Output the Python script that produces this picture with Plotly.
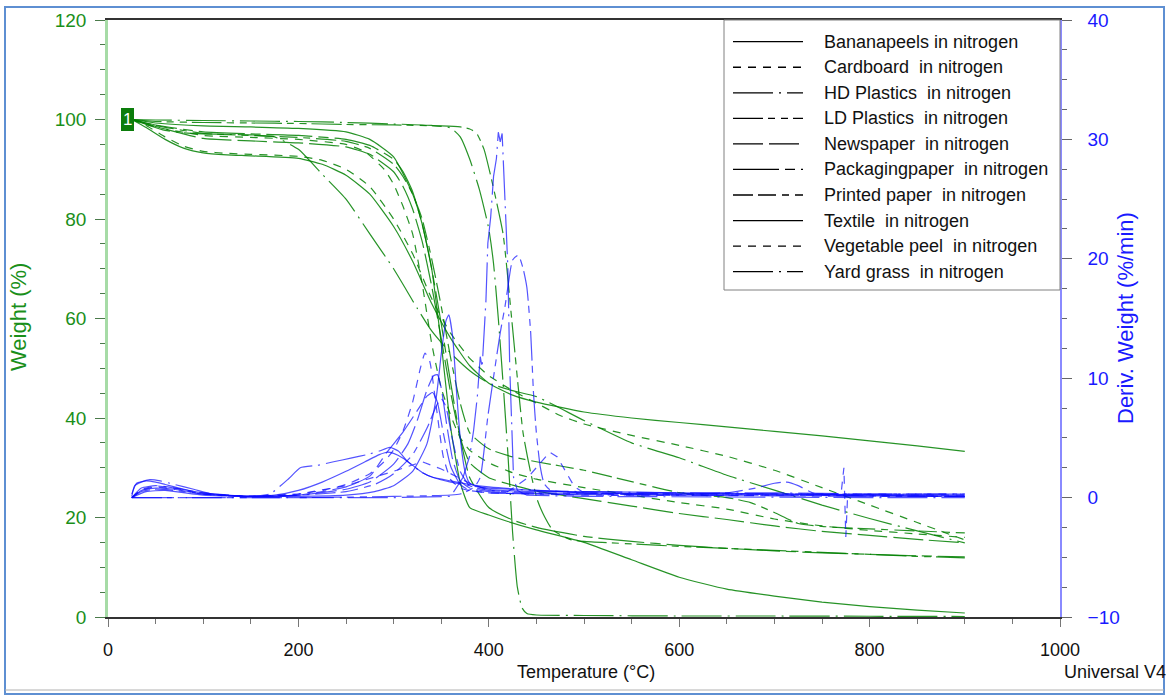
import plotly.graph_objects as go

# ------------------------------------------------------------------ data
legend_labels = ["Bananapeels in nitrogen", "Cardboard  in nitrogen", "HD Plastics  in nitrogen",
                 "LD Plastics  in nitrogen", "Newspaper  in nitrogen", "Packagingpaper  in nitrogen",
                 "Printed paper  in nitrogen", "Textile  in nitrogen", "Vegetable peel  in nitrogen",
                 "Yard grass  in nitrogen"]

x_ticks = [0, 200, 400, 600, 800, 1000]

# Weight (%) curves  (temperature in °C)
t_banana = [25, 40, 60, 80, 100, 125, 150, 200, 225, 250, 275, 300, 320, 340, 360, 380, 400, 425, 450, 500, 550, 600, 650, 700, 750, 800, 850, 900]
w_banana = [100, 98.4, 96, 94.2, 93.3, 92.9, 92.7, 92.2, 91, 88.8, 85, 78.5, 71.5, 63, 56, 50.5, 47, 44.6, 43.2, 41.2, 40, 39.1, 38.2, 37.3, 36.4, 35.4, 34.4, 33.3]

t_card = [25, 50, 100, 150, 200, 250, 270, 290, 300, 310, 320, 330, 340, 350, 360, 370, 380, 400, 425, 450, 500, 550, 600, 650, 700, 750, 800, 850, 900]
w_card = [100, 98.5, 96.8, 96.4, 96, 95, 93.5, 90, 87, 82.5, 77, 67, 55, 46, 40.5, 36, 33.5, 31, 29, 27.7, 26, 24.5, 23, 21.7, 19.7, 18.3, 17.4, 16.7, 16]

t_hd = [25, 50, 100, 150, 200, 250, 300, 340, 360, 370, 380, 390, 400, 405, 410, 415, 420, 425, 430, 435, 440, 450, 500, 600, 700, 800, 900]
w_hd = [100, 99.9, 99.8, 99.7, 99.6, 99.4, 99.1, 98.8, 98.3, 96.5, 92, 86, 78, 71, 60, 47, 33, 17, 6, 1.8, 0.7, 0.4, 0.3, 0.2, 0.2, 0.15, 0.1]

t_ld = [25, 50, 100, 150, 200, 250, 300, 350, 370, 380, 387, 395, 404, 415, 424, 430, 436, 444, 451, 459, 467, 485, 500, 550, 600, 650, 700, 750, 800, 850, 900]
w_ld = [100, 99.6, 99.4, 99.3, 99.2, 99.0, 98.9, 98.7, 98.5, 98.1, 97.3, 94, 87, 77, 60, 48, 37, 29, 23.5, 20, 17.5, 15.6, 15.2, 14.7, 14.2, 13.8, 13.4, 13, 12.6, 12.2, 11.9]

t_news = [25, 50, 100, 150, 200, 250, 275, 300, 310, 320, 330, 340, 350, 360, 370, 380, 400, 425, 450, 500, 550, 600, 650, 700, 750, 800, 850, 900]
w_news = [100, 98.6, 96.2, 95.7, 95.3, 94.5, 93, 89.5, 86.5, 82, 75.5, 66.5, 56, 45, 36, 31, 28, 26.5, 25.3, 23.8, 22.3, 20.8, 19.6, 18.3, 17.2, 16.4, 15.6, 14.9]

t_pack = [25, 50, 100, 150, 200, 250, 275, 300, 310, 320, 330, 340, 350, 360, 370, 380, 400, 425, 450, 500, 550, 600, 650, 700, 750, 800, 850, 900]
w_pack = [100, 98.9, 97.5, 97.1, 96.8, 96, 94.8, 92, 89.5, 85.5, 79, 70, 59, 47, 36, 28, 22, 19.5, 18, 16.2, 15.2, 14.4, 13.8, 13.3, 12.9, 12.6, 12.3, 12.1]

t_print = [25, 50, 100, 150, 200, 250, 275, 300, 310, 320, 330, 340, 350, 360, 370, 380, 400, 425, 450, 500, 550, 600, 650, 675, 700, 725, 750, 800, 850, 900]
w_print = [100, 98.8, 97.2, 96.8, 96.4, 95.6, 94.2, 91, 88.5, 85, 80, 72, 62.5, 52, 43, 37, 33.8, 32.2, 31.2, 29.5, 27.2, 25, 24, 23, 21, 18.8, 18.2, 17.7, 17.3, 16.9]

t_text = [25, 50, 100, 150, 200, 250, 275, 300, 320, 330, 340, 350, 360, 370, 380, 400, 420, 450, 500, 550, 600, 650, 700, 750, 800, 850, 900]
w_text = [100, 99.3, 98.7, 98.5, 98.2, 97.5, 96, 92.5, 85, 79, 70, 55, 38, 27, 22, 20.5, 19.2, 17.5, 15, 11.5, 8, 5.6, 4.2, 3, 2.1, 1.4, 0.8]

t_veg = [25, 40, 60, 80, 100, 125, 150, 200, 225, 250, 275, 300, 320, 340, 360, 380, 400, 425, 450, 475, 500, 550, 600, 650, 700, 750, 800, 850, 900]
w_veg = [100, 98.8, 96.5, 94.6, 93.6, 93.2, 93, 92.6, 91.8, 90, 86.5, 80, 73, 64, 57, 52, 48.5, 45.5, 43, 40.5, 38.8, 36.5, 34.5, 32.3, 29.5, 26, 22.5, 19, 15.5]

t_yard = [25, 40, 60, 80, 100, 125, 150, 175, 200, 225, 250, 275, 300, 325, 340, 360, 380, 400, 425, 450, 500, 550, 600, 650, 700, 750, 800, 850, 900]
w_yard = [100, 99, 97.8, 97.3, 97.1, 97, 96.9, 96.5, 94, 89, 84, 77, 70, 62, 57.5, 53, 49.5, 47, 45.5, 44.3, 39.5, 35, 32, 28.5, 25.5, 22.5, 19.8, 17.3, 14.9]

# Derivative weight (%/min) curves
dt_banana = [25, 30, 40, 50, 60, 80, 100, 125, 150, 175, 200, 225, 250, 270, 285, 293, 300, 310, 320, 330, 341, 360, 380, 400, 450, 500, 600, 700, 800, 900]
d_banana = [0.3, 1.2, 1.4, 1.3, 1.1, 0.7, 0.4, 0.2, 0.1, 0.2, 0.6, 1.3, 2.2, 3.0, 3.6, 3.8, 3.7, 3.3, 2.7, 2.1, 1.7, 1.4, 1.1, 0.9, 0.6, 0.4, 0.3, 0.3, 0.25, 0.2]

dt_card = [25, 35, 50, 70, 100, 150, 200, 225, 250, 275, 290, 300, 310, 320, 328, 333, 338, 345, 352, 360, 370, 380, 400, 450, 500, 600, 700, 800, 900]
d_card = [0, 0.6, 0.9, 0.7, 0.3, 0.1, 0.3, 0.6, 1.1, 2.0, 3.0, 4.0, 5.6, 8.0, 10.8, 12.1, 11.4, 7.5, 3.5, 1.5, 0.8, 0.6, 0.4, 0.3, 0.2, 0.2, 0.2, 0.2, 0.2]

dt_hd = [25, 100, 200, 300, 360, 373, 380, 384, 388, 391, 393, 395, 397, 399, 402, 405, 408, 410, 412, 414, 416, 417, 419, 420, 422, 424, 426, 430, 440, 500, 600, 700, 800, 900]
d_hd = [0, 0, 0, 0, 0.1, 1.7, 3.5, 5.6, 8.5, 11.8, 10.9, 14.3, 16.5, 21.3, 23.5, 26.9, 28.4, 30.6, 29.8, 30.5, 27, 25, 21, 19.3, 10.9, 5.4, 1.7, 0.6, 0.2, 0.1, 0.05, 0, 0, 0]

dt_ld = [25, 100, 200, 300, 370, 385, 391, 399, 405, 412, 417, 420, 425, 431, 436, 440, 444, 447, 450, 454, 458, 465, 480, 500, 600, 700, 800, 900]
d_ld = [0, 0, 0, 0.1, 0.3, 0.9, 1.7, 6.8, 10.1, 13.8, 16, 17.6, 19.9, 20.3, 19.2, 17.6, 13.8, 8.7, 5.4, 2.6, 1.2, 0.6, 0.5, 0.4, 0.3, 0.3, 0.3, 0.3]

dt_news = [25, 35, 50, 70, 100, 150, 200, 250, 275, 300, 315, 325, 335, 342, 346, 350, 356, 362, 370, 380, 400, 450, 500, 600, 700, 800, 900]
d_news = [0, 0.8, 1.0, 0.8, 0.4, 0.1, 0.2, 0.7, 1.3, 2.8, 4.5, 6.5, 9.0, 10.2, 10.3, 9.2, 6.0, 3.2, 1.4, 0.8, 0.5, 0.35, 0.3, 0.2, 0.2, 0.15, 0.1]

dt_pack = [25, 35, 50, 70, 100, 150, 200, 250, 275, 293, 310, 325, 335, 341, 346, 352, 360, 370, 380, 400, 450, 500, 600, 700, 800, 900]
d_pack = [0, 0.6, 0.8, 0.7, 0.3, 0.1, 0.2, 0.9, 1.8, 3.8, 5.5, 7.3, 8.5, 8.8, 8.0, 5.5, 2.6, 1.1, 0.6, 0.4, 0.3, 0.25, 0.2, 0.15, 0.1, 0.1]

dt_print = [25, 35, 50, 70, 100, 150, 200, 250, 280, 300, 320, 335, 345, 350, 355, 362, 370, 380, 400, 450, 500, 600, 650, 680, 700, 713, 725, 740, 760, 800, 900]
d_print = [0, 0.5, 0.7, 0.6, 0.3, 0.1, 0.2, 0.5, 1.1, 2.0, 3.6, 5.8, 7.7, 8.3, 7.6, 4.8, 2.2, 1.0, 0.6, 0.4, 0.35, 0.3, 0.4, 0.8, 1.2, 1.3, 1.0, 0.4, 0.2, 0.15, 0.1]

dt_text = [25, 40, 60, 100, 150, 200, 250, 280, 300, 320, 335, 345, 350, 355, 358, 362, 366, 370, 375, 380, 400, 450, 500, 600, 700, 800, 900]
d_text = [0, 0.5, 0.6, 0.2, 0.1, 0.1, 0.2, 0.5, 1.0, 2.2, 4.5, 8.5, 12, 14.8, 15.3, 13.5, 9, 5, 2.2, 1.2, 0.7, 0.5, 0.5, 0.4, 0.3, 0.2, 0.1]

dt_veg = [25, 35, 50, 70, 100, 150, 200, 250, 300, 330, 350, 380, 400, 420, 440, 455, 464, 472, 480, 490, 500, 550, 600, 700, 770, 773, 775, 777, 779, 790, 800, 900]
d_veg = [0, 0.7, 1.0, 0.8, 0.3, 0.1, 0.3, 1.0, 2.2, 3.0, 2.4, 1.2, 0.6, 0.5, 1.6, 3.0, 3.8, 3.4, 2.3, 0.9, 0.4, 0.3, 0.3, 0.3, 0.3, 2.5, -3.3, 0.3, 0.3, 0.3, 0.3, 0.3]

dt_yard = [25, 28, 35, 44, 55, 70, 90, 115, 150, 170, 190, 202, 220, 237, 255, 272, 285, 296, 305, 315, 330, 341, 360, 380, 400, 450, 500, 600, 700, 800, 900]
d_yard = [0.1, 1.0, 1.3, 1.5, 1.4, 1.1, 0.7, 0.2, 0.1, 0.3, 1.6, 2.5, 2.7, 3.0, 3.3, 3.6, 3.9, 4.2, 3.9, 3.0, 2.1, 1.7, 1.3, 1.0, 0.8, 0.6, 0.5, 0.4, 0.4, 0.3, 0.3]

# ------------------------------------------------------------------ styles
DASH_SOLID = "solid"
DASH_SHORT = "8px,7px"
DASH_LONGDOT = "40px,6px,2px,6px"
DASH_LONG2SHORT = "30px,5px,7px,6px,7px,5px"
DASH_LONG = "30px,6px"
DASH_LONGSHORT = "46px,6px,10px,6px"
DASH_MED2SHORT = "20px,5px,18px,6px,7px,6px"
dashes = [DASH_SOLID, DASH_SHORT, DASH_LONGDOT, DASH_LONG2SHORT, DASH_LONG,
          DASH_LONGSHORT, DASH_MED2SHORT, DASH_SOLID, DASH_SHORT, DASH_LONGDOT]

weights = [(t_banana, w_banana), (t_card, w_card), (t_hd, w_hd), (t_ld, w_ld), (t_news, w_news),
           (t_pack, w_pack), (t_print, w_print), (t_text, w_text), (t_veg, w_veg), (t_yard, w_yard)]
derivs = [(dt_banana, d_banana), (dt_card, d_card), (dt_hd, d_hd), (dt_ld, d_ld), (dt_news, d_news),
          (dt_pack, d_pack), (dt_print, d_print), (dt_text, d_text), (dt_veg, d_veg), (dt_yard, d_yard)]

GREEN = "rgba(0,128,0,0.85)"
BLUE = "rgba(10,10,255,0.7)"
FONT = "Liberation Sans, Arial, sans-serif"

fig = go.Figure()
for (t, w), dsh, name in zip(weights, dashes, legend_labels):
    fig.add_trace(go.Scatter(x=t, y=w, mode="lines", name=name, showlegend=False,
                             line=dict(color=GREEN, width=1.2, dash=dsh, shape="spline", smoothing=0.5),
                             yaxis="y", hoverinfo="skip"))
for i, ((t, d), dsh, name) in enumerate(zip(derivs, dashes, legend_labels)):
    shp = "linear" if i in (2, 8) else "spline"
    fig.add_trace(go.Scatter(x=t, y=d, mode="lines", name=name + " (deriv)", showlegend=False,
                             line=dict(color=BLUE, width=1.2, dash=dsh, shape=shp, smoothing=0.5),
                             yaxis="y2", hoverinfo="skip"))

# ------------------------------------------------------------------ layout helpers
PL, PR, PT, PB = 108, 1060, 20, 617
def px(x):
    return (x - PL) / (PR - PL)
def py(y):
    return (PB - y) / (PB - PT)

shapes = []
annotations = []

# outer frame
shapes.append(dict(type="rect", xref="paper", yref="paper", x0=px(5), x1=px(1164), y0=py(694), y1=py(7),
                   line=dict(color="#5e8fd2", width=2), fillcolor="rgba(0,0,0,0)", layer="above"))
shapes.append(dict(type="line", xref="paper", yref="paper", x0=px(5), x1=px(1164), y0=py(690), y1=py(690),
                   line=dict(color="#b0b0b0", width=1), layer="above"))

# legend box
shapes.append(dict(type="rect", xref="paper", yref="paper", x0=px(724), x1=px(1060), y0=py(290), y1=py(20),
                   line=dict(color="#808080", width=1), fillcolor="white", layer="above"))
row0, step = 41.7, 25.55
for i, (lab, dsh) in enumerate(zip(legend_labels, dashes)):
    yy = py(row0 + i * step)
    shapes.append(dict(type="line", xref="paper", yref="paper", x0=px(733), x1=px(803), y0=yy, y1=yy,
                       line=dict(color="black", width=1.3, dash=dsh), layer="above"))
    annotations.append(dict(text=lab, xref="paper", yref="paper", x=px(822), y=yy, xanchor="left",
                            yanchor="middle", showarrow=False, font=dict(family=FONT, size=18, color="#111")))

# axis titles
annotations.append(dict(text="Weight (%)", xref="paper", yref="paper", x=px(18), y=py(317), textangle=-90,
                        showarrow=False, xanchor="center", yanchor="middle",
                        font=dict(family=FONT, size=22, color="#1a8f1a")))
annotations.append(dict(text="Deriv. Weight (%/min)", xref="paper", yref="paper", x=px(1125), y=py(318),
                        textangle=-90, showarrow=False, xanchor="center", yanchor="middle",
                        font=dict(family=FONT, size=22, color="#1a1aff")))
annotations.append(dict(text="Temperature (°C)", xref="paper", yref="paper", x=px(586), y=py(672),
                        showarrow=False, xanchor="center", yanchor="middle",
                        font=dict(family=FONT, size=18, color="#111")))
annotations.append(dict(text="Universal V4", xref="paper", yref="paper", x=px(1062), y=py(672),
                        showarrow=False, xanchor="left", yanchor="middle",
                        font=dict(family=FONT, size=18, color="#111")))
# curve marker "1"
annotations.append(dict(text="1", xref="x", yref="y", x=20, y=100, showarrow=False,
                        xanchor="center", yanchor="middle", bgcolor="#0b7d0b", bordercolor="#0b7d0b",
                        borderpad=1, font=dict(family=FONT, size=17, color="white")))

fig.update_layout(
    width=1170, height=696,
    margin=dict(l=PL, r=1170 - PR, t=PT, b=696 - PB),
    paper_bgcolor="white", plot_bgcolor="white",
    showlegend=False,
    font=dict(family=FONT),
    shapes=shapes, annotations=annotations,
    xaxis=dict(range=[0, 1000], tickvals=x_ticks, ticktext=[str(v) for v in x_ticks],
               ticks="outside", ticklen=8, tickwidth=1, tickcolor="#777", ticklabelstandoff=8,
               showline=True, linecolor="#333", linewidth=1.5, mirror=True,
               showgrid=False, zeroline=False, automargin=False,
               tickfont=dict(family=FONT, size=18, color="#111"),
               minor=dict(dtick=50, ticks="outside", ticklen=5, tickcolor="#777")),
    yaxis=dict(range=[0, 120], dtick=20, ticks="outside", ticklen=10, tickwidth=1, tickcolor="#4a7a4a",
               ticklabelstandoff=5,
               showline=True, linecolor="#a6dba6", linewidth=2.5,
               showgrid=False, zeroline=False, automargin=False,
               tickfont=dict(family=FONT, size=19, color="#1a8f1a"),
               minor=dict(dtick=5, ticks="outside", ticklen=5, tickcolor="#4a7a4a")),
    yaxis2=dict(range=[-10, 40], dtick=10, overlaying="y", side="right",
                ticks="outside", ticklen=10, tickwidth=1, tickcolor="#666", ticklabelstandoff=12,
                showline=True, linecolor="#8a8aff", linewidth=1.5,
                showgrid=False, zeroline=False, automargin=False,
                tickfont=dict(family=FONT, size=19, color="#1a1aff"),
                minor=dict(dtick=2.5, ticks="outside", ticklen=5, tickcolor="#666")),
)

fig.write_html("out.html")
